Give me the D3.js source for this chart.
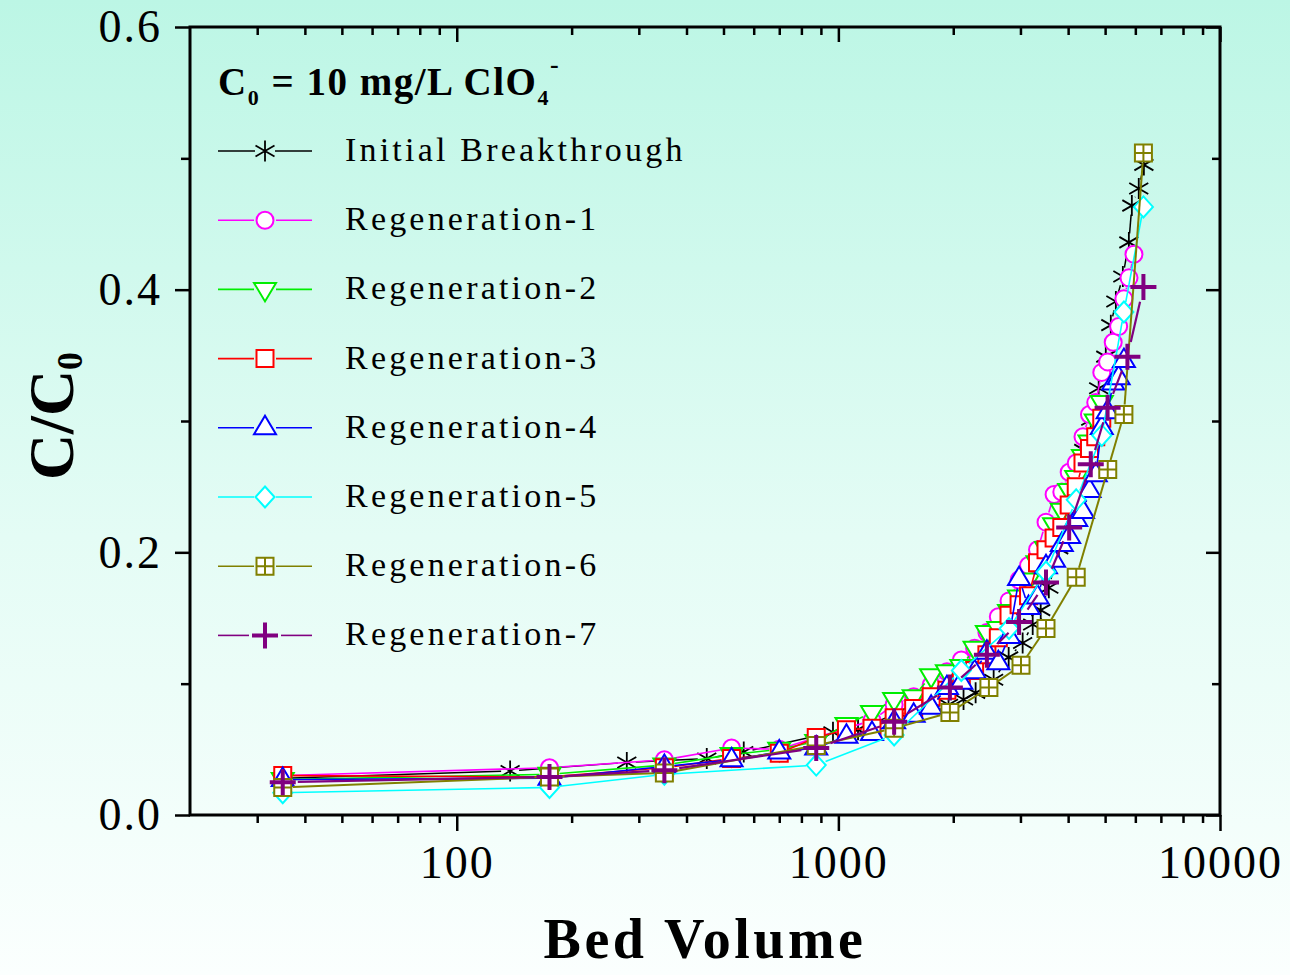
<!DOCTYPE html>
<html>
<head>
<meta charset="utf-8">
<title>Perchlorate breakthrough</title>
<script src="https://cdn.jsdelivr.net/npm/d3@7"></script>
<style>
    body { margin: 0; }
    svg text { font-family: "Liberation Serif", "Times New Roman", serif; fill: #000; }
</style>
</head>
<body>
<script>
    // ---- data ----
    var bvInitial = [35, 138, 279, 452, 565, 968, 1126, 1434, 1944, 2128, 2289, 2552, 2794, 3040, 3230, 3390,
        3560, 3780, 4010, 4215, 4395, 4585, 4810, 5020, 5175, 5335, 5565, 5770, 5875, 6125, 6318];
    var cInitial = [0.028, 0.0335, 0.040, 0.043, 0.048, 0.063, 0.065, 0.078, 0.084, 0.088, 0.093, 0.103, 0.120, 0.131, 0.145, 0.156,
        0.173, 0.203, 0.231, 0.255, 0.278, 0.301, 0.325, 0.349, 0.373, 0.391, 0.410, 0.436, 0.464, 0.477, 0.495];

    // regenerations 1-4 were sampled every 175 BV
    var bvStep = [35, 175, 350, 525, 700, 875, 1050, 1225, 1400, 1575, 1750, 1925, 2100, 2275, 2450, 2625, 2800, 2975,
        3150, 3325, 3500, 3675, 3850, 4025, 4200, 4375, 4550, 4725, 4900, 5075, 5250, 5425, 5600, 5775, 5950];

    var cRegen1 = [0.030, 0.036, 0.042, 0.051, 0.050, 0.059, 0.066, 0.072, 0.084, 0.090, 0.099, 0.109, 0.118, 0.127, 0.139, 0.151,
        0.163, 0.179, 0.190, 0.202, 0.223, 0.244, 0.246, 0.261, 0.268, 0.288, 0.305, 0.314, 0.337, 0.345, 0.360, 0.372,
        0.393, 0.409, 0.427];
    var cRegen2 = [0.027, 0.031, 0.038, 0.046, 0.050, 0.056, 0.069, 0.078, 0.088, 0.090, 0.106, 0.109, 0.113, 0.127, 0.139, 0.142,
        0.155, 0.166, 0.179, 0.192, 0.203, 0.221, 0.232, 0.247, 0.257, 0.273, 0.284, 0.300, 0.314];
    var cRegen3 = [0.030, 0.029, 0.036, 0.043, 0.047, 0.059, 0.065, 0.066, 0.074, 0.081, 0.090, 0.095, 0.103, 0.110, 0.122, 0.135,
        0.152, 0.160, 0.167, 0.192, 0.202, 0.211, 0.219, 0.236, 0.250, 0.268, 0.279, 0.288, 0.302];
    var cRegen4 = [0.027, 0.028, 0.037, 0.042, 0.048, 0.051, 0.060, 0.062, 0.071, 0.076, 0.082, 0.097, 0.101, 0.109, 0.124, 0.116,
        0.136, 0.180, 0.158, 0.166, 0.189, 0.194, 0.206, 0.212, 0.225, 0.231, 0.247, 0.259, 0.295, 0.307, 0.329, 0.333, 0.346];

    var bvRegen5 = [35, 175, 350, 875, 1400, 2100, 2800, 3500, 4200, 4900, 5600, 6300];
    var cRegen5 = [0.017, 0.021, 0.031, 0.038, 0.061, 0.110, 0.142, 0.185, 0.240, 0.289, 0.383, 0.463];

    var bvRegen6 = [35, 175, 350, 875, 1400, 1960, 2480, 3010, 3500, 4200, 5080, 5600, 6300];
    var cRegen6 = [0.021, 0.029, 0.032, 0.053, 0.066, 0.078, 0.097, 0.114, 0.142, 0.181, 0.263, 0.305, 0.504];

    var bvRegen7 = [35, 175, 350, 875, 1400, 1960, 2450, 2975, 3500, 4025, 4585, 5075, 5720, 6300];
    var cRegen7 = [0.025, 0.029, 0.034, 0.051, 0.071, 0.097, 0.122, 0.147, 0.177, 0.219, 0.267, 0.310, 0.349, 0.402];

    var seriesNames = ["Initial Breakthrough", "Regeneration-1", "Regeneration-2", "Regeneration-3",
        "Regeneration-4", "Regeneration-5", "Regeneration-6", "Regeneration-7"];

    var xMajor = [100, 1000, 10000];
    var xMinor = [30, 40, 50, 60, 70, 80, 90, 200, 300, 400, 500, 600, 700, 800, 900,
        2000, 3000, 4000, 5000, 6000, 7000, 8000, 9000];
    var yMajor = [0, 0.2, 0.4, 0.6];
    var yMinor = [0.1, 0.3, 0.5];

    // ---- styles ----
    var styles = {
        "Initial Breakthrough": { color: "#000000", shape: "asterisk", lw: 1.5, mw: 1.8, gap: 9 },
        "Regeneration-1": { color: "#ff00ff", shape: "circle", lw: 1.6, mw: 2, gap: 10 },
        "Regeneration-2": { color: "#00ee00", shape: "triDown", lw: 1.6, mw: 2, gap: 10 },
        "Regeneration-3": { color: "#ff0000", shape: "square", lw: 1.6, mw: 2, gap: 10 },
        "Regeneration-4": { color: "#0000ff", shape: "triUp", lw: 1.6, mw: 2, gap: 10 },
        "Regeneration-5": { color: "#00ffff", shape: "diamond", lw: 1.6, mw: 2, gap: 10 },
        "Regeneration-6": { color: "#808000", shape: "squareCross", lw: 2, mw: 2, gap: 10 },
        "Regeneration-7": { color: "#800080", shape: "plus", lw: 2.2, mw: 4, gap: 15 }
    };

    var table = [
        { bv: bvInitial, c: cInitial },
        { bv: bvStep.slice(0, cRegen1.length), c: cRegen1 },
        { bv: bvStep.slice(0, cRegen2.length), c: cRegen2 },
        { bv: bvStep.slice(0, cRegen3.length), c: cRegen3 },
        { bv: bvStep.slice(0, cRegen4.length), c: cRegen4 },
        { bv: bvRegen5, c: cRegen5 },
        { bv: bvRegen6, c: cRegen6 },
        { bv: bvRegen7, c: cRegen7 }
    ].map(function(s, i) {
        s.name = seriesNames[i];
        s.points = s.bv.map(function(v, j) { return [v, s.c[j]]; });
        return s;
    });

    // ---- chart ----
    var w = 1290, h = 975;
    var plotL = 190, plotR = 1220, plotT = 27, plotB = 815;

    var svg = d3.select("body").append("svg").attr("width", w).attr("height", h);

    var grad = svg.append("defs").append("linearGradient")
        .attr("id", "bg").attr("x1", 0).attr("y1", 0).attr("x2", 0).attr("y2", 1);
    grad.append("stop").attr("offset", "0%").attr("stop-color", "#bcf6e5");
    grad.append("stop").attr("offset", "55%").attr("stop-color", "#e4fcf5");
    grad.append("stop").attr("offset", "100%").attr("stop-color", "#fbfffe");
    svg.append("rect").attr("width", w).attr("height", h).attr("fill", "url(#bg)");

    var x = d3.scaleLog().domain([20, 10000]).range([plotL, plotR]);
    var y = d3.scaleLinear().domain([0, 0.6]).range([plotB, plotT]);

    function styleAxis(g) {
        g.attr("font-family", "Liberation Serif, serif");
        g.select(".domain").remove();
        g.selectAll(".tick line").attr("stroke", "#000").attr("stroke-width", 2.5);
        g.selectAll(".tick text").attr("font-size", "46px").attr("letter-spacing", "2px");
    }

    // bottom (outward)
    svg.append("g").attr("transform", "translate(0," + plotB + ")")
        .call(d3.axisBottom(x).tickValues(xMajor).tickSize(16).tickPadding(14).tickFormat(d3.format("d")))
        .call(styleAxis);
    svg.append("g").attr("transform", "translate(0," + plotB + ")")
        .call(d3.axisBottom(x).tickValues(xMinor).tickSize(8).tickFormat(""))
        .call(styleAxis);
    // top (inward)
    svg.append("g").attr("transform", "translate(0," + plotT + ")")
        .call(d3.axisBottom(x).tickValues(xMajor).tickSize(15).tickFormat(""))
        .call(styleAxis);
    svg.append("g").attr("transform", "translate(0," + plotT + ")")
        .call(d3.axisBottom(x).tickValues(xMinor).tickSize(8).tickFormat(""))
        .call(styleAxis);
    // left (outward)
    svg.append("g").attr("transform", "translate(" + plotL + ",0)")
        .call(d3.axisLeft(y).tickValues(yMajor).tickSize(15).tickPadding(13).tickFormat(d3.format(".1f")))
        .call(styleAxis);
    svg.append("g").attr("transform", "translate(" + plotL + ",0)")
        .call(d3.axisLeft(y).tickValues(yMinor).tickSize(9).tickFormat(""))
        .call(styleAxis);
    // right (inward)
    svg.append("g").attr("transform", "translate(" + plotR + ",0)")
        .call(d3.axisLeft(y).tickValues(yMajor).tickSize(14).tickFormat(""))
        .call(styleAxis);
    svg.append("g").attr("transform", "translate(" + plotR + ",0)")
        .call(d3.axisLeft(y).tickValues(yMinor).tickSize(8).tickFormat(""))
        .call(styleAxis);

    svg.append("rect")
        .attr("x", plotL).attr("y", plotT)
        .attr("width", plotR - plotL).attr("height", plotB - plotT)
        .attr("fill", "none").attr("stroke", "#000").attr("stroke-width", 3);

    // marker shapes
    function markerPath(shape) {
        switch (shape) {
            case "asterisk": return "M0,-10.5V10.5M-9.5,-5.5L9.5,5.5M-9.5,5.5L9.5,-5.5";
            case "circle": return "M8.5,0A8.5,8.5 0 1,1 -8.5,0A8.5,8.5 0 1,1 8.5,0Z";
            case "triDown": return "M-11,-6.5L11,-6.5L0,12Z";
            case "square": return "M-8.5,-8.5H8.5V8.5H-8.5Z";
            case "triUp": return "M0,-12L11,6.5L-11,6.5Z";
            case "diamond": return "M0,-10.5L9.5,0L0,10.5L-9.5,0Z";
            case "squareCross": return "M-8.5,-8.5H8.5V8.5H-8.5ZM0,-8.5V8.5M-8.5,0H8.5";
            case "plus": return "M-13,0H13M0,-13V13";
        }
    }
    function markerFill(shape) {
        return (shape == "asterisk" || shape == "plus") ? "none" : "#ffffff";
    }

    // line segments with a gap at each symbol
    function gapped(pts, gap) {
        var segs = [];
        for (var i = 1; i < pts.length; i++) {
            var a = pts[i - 1], b = pts[i];
            var dx = b[0] - a[0], dy = b[1] - a[1];
            var len = Math.sqrt(dx * dx + dy * dy);
            if (len <= 2 * gap) continue;
            var ux = dx / len, uy = dy / len;
            segs.push([a[0] + ux * gap, a[1] + uy * gap, b[0] - ux * gap, b[1] - uy * gap]);
        }
        return segs;
    }

    var plot = svg.append("g");

    table.forEach(function(s) {
        var st = styles[s.name];
        var px = s.points.map(function(p) { return [x(p[0]), y(p[1])]; });
        var g = plot.append("g");
        g.selectAll("line")
            .data(gapped(px, st.gap))
            .enter()
            .append("line")
            .attr("x1", function(d) { return d[0]; })
            .attr("y1", function(d) { return d[1]; })
            .attr("x2", function(d) { return d[2]; })
            .attr("y2", function(d) { return d[3]; })
            .attr("stroke", st.color)
            .attr("stroke-width", st.lw);
        g.selectAll("path")
            .data(s.points)
            .enter()
            .append("path")
            .attr("transform", function(d) { return "translate(" + x(d[0]) + "," + y(d[1]) + ")"; })
            .attr("d", markerPath(st.shape))
            .attr("fill", markerFill(st.shape))
            .attr("stroke", st.color)
            .attr("stroke-width", st.mw);
    });

    // ---- legend ----
    var title = svg.append("text")
        .attr("x", 218).attr("y", 95)
        .attr("font-size", "39px").attr("font-weight", "bold")
        .attr("letter-spacing", "1.5px");
    title.append("tspan").text("C");
    title.append("tspan").attr("font-size", "22px").attr("dy", 10).text("0");
    title.append("tspan").attr("dy", -10).text(" = 10 mg/L ClO");
    title.append("tspan").attr("font-size", "22px").attr("dy", 10).text("4");
    title.append("tspan").attr("font-size", "26px").attr("dy", -32).text("-");

    var legend = svg.append("g");
    seriesNames.forEach(function(name, i) {
        var st = styles[name];
        var ly = 151 + i * 69.2;
        var mx = 265, g = st.gap + 1;
        legend.append("line")
            .attr("x1", 218).attr("x2", mx - g).attr("y1", ly).attr("y2", ly)
            .attr("stroke", st.color).attr("stroke-width", 1.6);
        legend.append("line")
            .attr("x1", mx + g).attr("x2", 312).attr("y1", ly).attr("y2", ly)
            .attr("stroke", st.color).attr("stroke-width", 1.6);
        legend.append("path")
            .attr("transform", "translate(" + mx + "," + ly + ")")
            .attr("d", markerPath(st.shape))
            .attr("fill", markerFill(st.shape))
            .attr("stroke", st.color)
            .attr("stroke-width", st.mw);
        legend.append("text")
            .attr("x", 345).attr("y", ly + 10)
            .attr("font-size", "34px")
            .attr("letter-spacing", "3.2px")
            .text(name);
    });

    // ---- axis titles ----
    var yl = svg.append("text")
        .attr("transform", "translate(73,416) rotate(-90)")
        .attr("text-anchor", "middle")
        .attr("font-size", "64px").attr("font-weight", "bold");
    yl.append("tspan").text("C/C");
    yl.append("tspan").attr("font-size", "36px").attr("dy", 9).text("0");

    svg.append("text")
        .attr("x", 705).attr("y", 958)
        .attr("text-anchor", "middle")
        .attr("font-size", "56px").attr("font-weight", "bold")
        .attr("letter-spacing", "3.5px")
        .text("Bed Volume");
</script>
</body>
</html>
